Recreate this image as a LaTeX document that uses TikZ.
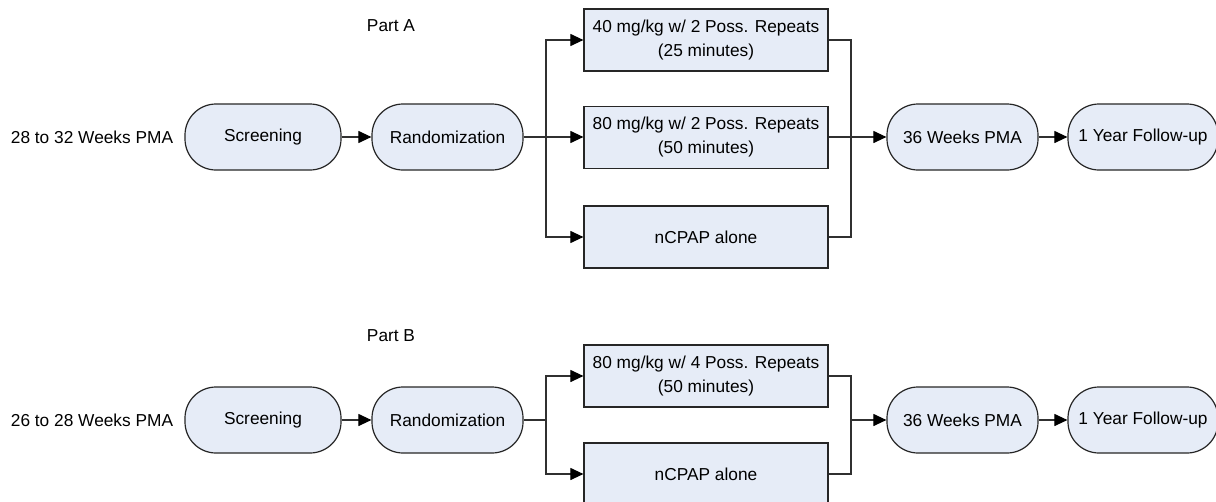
\documentclass[tikz,border=0pt]{standalone}
\usepackage{fontspec}
\setmainfont{Liberation Sans}
\usetikzlibrary{arrows.meta}
\definecolor{nodefill}{HTML}{E6ECF7}
\definecolor{edgegray}{HTML}{262626}
\definecolor{linegray}{HTML}{303030}
\begin{document}
\begin{tikzpicture}[x=1pt,y=-1pt,
  every node/.style={font=\fontsize{17.3}{24}\selectfont, inner sep=0pt},
  stadium/.style={draw=edgegray, line width=1.2pt, fill=nodefill, rounded corners=31pt,
    minimum height=66pt},
  armbox/.style={draw=edgegray, line width=1.2pt, fill=nodefill, minimum width=244pt,
    minimum height=62pt, align=center},
  flow/.style={draw=linegray, line width=1.1pt},
  arr/.style={flow, -{Triangle[length=13pt,width=12pt,color=black]}},
  plain/.style={text=black}
]
\useasboundingbox (0,0) rectangle (1216,501);

% ---------- Part A ----------
\node[plain] (partA) at (391,26) {Part A};
\node[plain] (ageA) at (92,137) {28 to 32 Weeks PMA};
\node[stadium, minimum width=156pt] (scrA) at (263,137) {Screening};
\node[stadium, minimum width=151pt] (randA) at (447.5,137) {Randomization};
\node[armbox] (a1) at (706,40) {40 mg/kg w/ 2 Poss. Repeats\\(25 minutes)};
\node[armbox] (a2) at (706,137.5) {80 mg/kg w/ 2 Poss. Repeats\\(50 minutes)};
\node[armbox] (a3) at (706,237) {nCPAP alone};
\node[stadium, minimum width=151pt] (wkA) at (962.5,137) {36 Weeks PMA};
\node[stadium, minimum width=150pt] (yrA) at (1143,137) {1 Year Follow-up};
\coordinate (brA) at (546,137);
\coordinate (mgA) at (851,137);

\draw[arr] (scrA) -- (randA);
\draw[flow] (randA.east) -- (brA);
\draw[arr] (brA) |- (a1.west);
\draw[arr] (brA) -- (a2.west |- brA);
\draw[arr] (brA) |- (a3.west);
\draw[flow] (a1.east) -| (mgA);
\draw[flow] (a2.east |- mgA) -- (mgA);
\draw[flow] (a3.east) -| (mgA);
\draw[arr] (mgA) -- (wkA.west);
\draw[arr] (wkA) -- (yrA);

% ---------- Part B ----------
\node[plain] (partB) at (391,336) {Part B};
\node[plain] (ageB) at (92,420) {26 to 28 Weeks PMA};
\node[stadium, minimum width=156pt] (scrB) at (263,420) {Screening};
\node[stadium, minimum width=151pt] (randB) at (447.5,420) {Randomization};
\node[armbox] (b1) at (706,376) {80 mg/kg w/ 4 Poss. Repeats\\(50 minutes)};
\node[armbox] (b2) at (706,474) {nCPAP alone};
\node[stadium, minimum width=151pt] (wkB) at (962.5,420) {36 Weeks PMA};
\node[stadium, minimum width=150pt] (yrB) at (1143,420) {1 Year Follow-up};
\coordinate (brB) at (546,420);
\coordinate (mgB) at (851,420);

\draw[arr] (scrB) -- (randB);
\draw[flow] (randB.east) -- (brB);
\draw[arr] (brB) |- (b1.west);
\draw[arr] (brB) |- (b2.west);
\draw[flow] (b1.east) -| (mgB);
\draw[flow] (b2.east) -| (mgB);
\draw[arr] (mgB) -- (wkB.west);
\draw[arr] (wkB) -- (yrB);
\end{tikzpicture}
\end{document}
